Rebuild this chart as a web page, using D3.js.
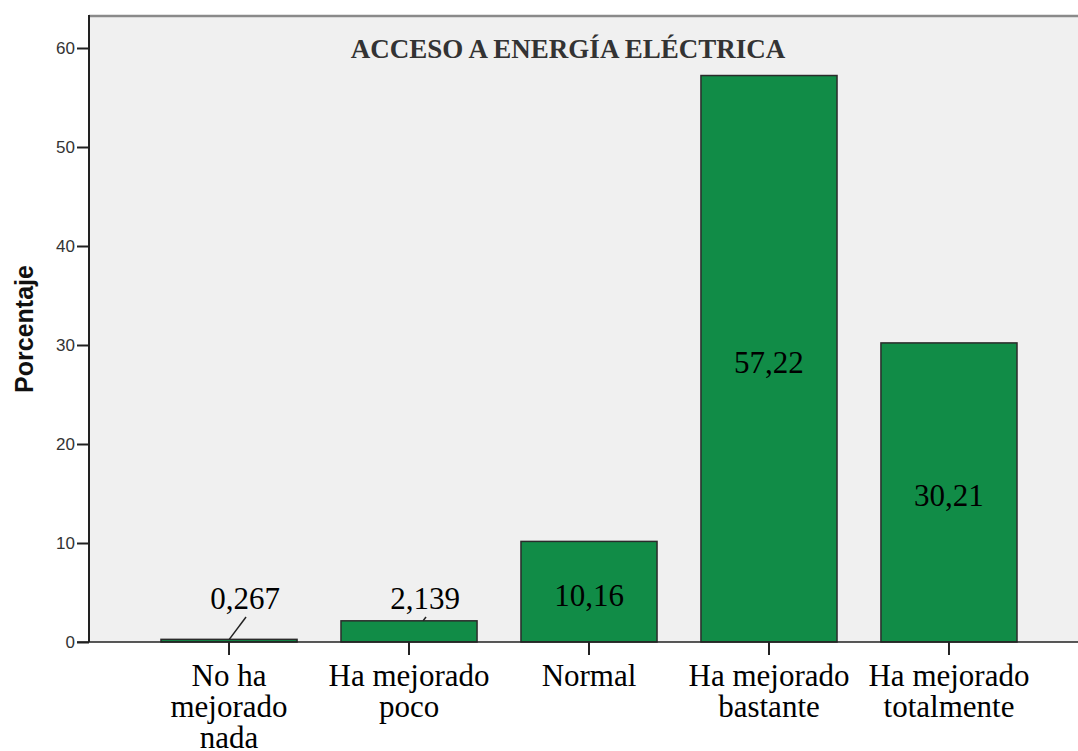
<!DOCTYPE html>
<html>
<head>
<meta charset="utf-8">
<script src="https://cdn.jsdelivr.net/npm/d3@7"></script>
<style>
  html, body { margin: 0; padding: 0; background: #fff; }
  svg { display: block; }
</style>
</head>
<body>
<div id="chart"></div>
<script>
// chart data
const categories = [
  ['No ha', 'mejorado', 'nada'],
  ['Ha mejorado', 'poco'],
  ['Normal'],
  ['Ha mejorado', 'bastante'],
  ['Ha mejorado', 'totalmente']
];
const values = [0.267, 2.139, 10.16, 57.22, 30.21];
const valueLabels = ['0,267', '2,139', '10,16', '57,22', '30,21'];
const yTicks = [0, 10, 20, 30, 40, 50, 60];
const chartTitle = 'ACCESO A ENERGÍA ELÉCTRICA';
const yTitle = 'Porcentaje';

const width = 1078, height = 751;
const plot = { left: 89, top: 16, right: 1078, bottom: 642 };

const svg = d3.select('#chart').append('svg')
  .attr('width', width)
  .attr('height', height);

// scales
const x = d3.scaleBand()
  .domain(d3.range(values.length))
  .range([plot.left, 1089])
  .paddingInner(0.244)
  .paddingOuter(0.4);

const y = d3.scaleLinear()
  .domain([0, 60])
  .range([plot.bottom, 48]);

// plot background
svg.append('rect')
  .attr('x', plot.left)
  .attr('y', plot.top)
  .attr('width', plot.right - plot.left)
  .attr('height', plot.bottom - plot.top)
  .attr('fill', '#f0f0f0');

svg.append('line')
  .attr('x1', plot.left).attr('x2', plot.right)
  .attr('y1', plot.top).attr('y2', plot.top)
  .attr('stroke', '#8a8a8a')
  .attr('stroke-width', 2.5);

// y axis
const yAxis = d3.axisLeft(y)
  .tickValues(yTicks)
  .tickSize(12)
  .tickPadding(2);

const yg = svg.append('g')
  .attr('transform', `translate(${plot.left},0)`)
  .call(yAxis);
yg.select('.domain').remove();
yg.selectAll('.tick line').attr('stroke', '#222').attr('stroke-width', 2);
yg.selectAll('.tick text')
  .attr('font-family', 'Arial, "Liberation Sans", sans-serif')
  .attr('font-size', 17)
  .attr('fill', '#333');

svg.append('text')
  .attr('transform', `translate(33,${(plot.top + plot.bottom) / 2}) rotate(-90)`)
  .attr('text-anchor', 'middle')
  .attr('font-family', 'Arial, "Liberation Sans", sans-serif')
  .attr('font-weight', 'bold')
  .attr('font-size', 25)
  .attr('fill', '#111')
  .text(yTitle);

// bars
const bars = svg.append('g');
bars.selectAll('rect')
  .data(values)
  .enter()
  .append('rect')
  .attr('x', (d, i) => x(i))
  .attr('y', d => y(d))
  .attr('width', x.bandwidth())
  .attr('height', d => y(0) - y(d))
  .attr('fill', '#118c47')
  .attr('stroke', '#2b2b2b')
  .attr('stroke-width', 1.5);

// axis lines on top of bars
svg.append('line')
  .attr('x1', plot.left).attr('x2', plot.left)
  .attr('y1', plot.top - 1).attr('y2', plot.bottom)
  .attr('stroke', '#222').attr('stroke-width', 2);

const xAxis = d3.axisBottom(x)
  .tickSize(13)
  .tickFormat('');
const xg = svg.append('g')
  .attr('transform', `translate(0,${plot.bottom})`)
  .call(xAxis);
xg.select('.domain').remove();
xg.selectAll('.tick line').attr('stroke', '#222').attr('stroke-width', 2);

svg.append('line')
  .attr('x1', plot.left - 12).attr('x2', plot.right)
  .attr('y1', plot.bottom).attr('y2', plot.bottom)
  .attr('stroke', '#222').attr('stroke-width', 1.5);

// category labels
const serif = '"Times New Roman", "Liberation Serif", serif';
const catLabels = svg.append('g')
  .selectAll('text')
  .data(categories)
  .enter()
  .append('text')
  .attr('x', (d, i) => x(i) + x.bandwidth() / 2)
  .attr('y', 686)
  .attr('text-anchor', 'middle')
  .attr('font-family', serif)
  .attr('font-size', 31)
  .attr('fill', '#000');

catLabels.selectAll('tspan')
  .data(d => d)
  .enter()
  .append('tspan')
  .attr('x', function() { return d3.select(this.parentNode).attr('x'); })
  .attr('dy', (d, i) => i === 0 ? 0 : 31)
  .text(d => d);

// value labels
const labelG = svg.append('g');
values.forEach((v, i) => {
  const cx = x(i) + x.bandwidth() / 2;
  const barH = y(0) - y(v);
  if (barH > 40) {
    labelG.append('text')
      .attr('x', cx)
      .attr('y', (y(v) + y(0)) / 2 + 14)
      .attr('text-anchor', 'middle')
      .attr('font-family', serif)
      .attr('font-size', 31)
      .attr('fill', '#000')
      .text(valueLabels[i]);
  } else {
    // label above with a small leader line
    const endX = cx + 17, endY = y(0) - 25;
    const startY = y(v);
    const startX = endX - 0.75 * (startY - endY);
    labelG.append('line')
      .attr('x1', startX).attr('y1', startY)
      .attr('x2', endX).attr('y2', endY)
      .attr('stroke', '#222').attr('stroke-width', 1.5);
    labelG.append('text')
      .attr('x', cx + 16)
      .attr('y', y(0) - 33)
      .attr('text-anchor', 'middle')
      .attr('font-family', serif)
      .attr('font-size', 31)
      .attr('fill', '#000')
      .text(valueLabels[i]);
  }
});

// title
svg.append('text')
  .attr('x', 568)
  .attr('y', 58)
  .attr('text-anchor', 'middle')
  .attr('font-family', serif)
  .attr('font-weight', 'bold')
  .attr('font-size', 27)
  .attr('fill', '#333')
  .text(chartTitle);
</script>
</body>
</html>
